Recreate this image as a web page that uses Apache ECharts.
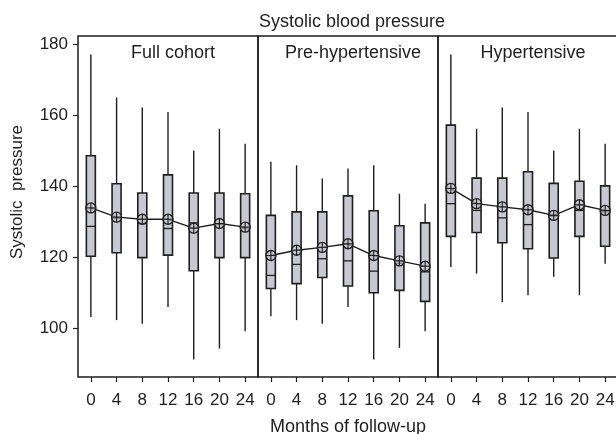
<!DOCTYPE html>
<html>
<head>
<meta charset="utf-8">
<script src="https://cdn.jsdelivr.net/npm/echarts@6/dist/echarts.min.js"></script>
<style>html,body{margin:0;padding:0;background:#fff}#c{width:616px;height:434px}</style>
</head>
<body>
<div id="c"></div>
<script>
var months = ['0', '4', '8', '12', '16', '20', '24'];
var panelTitles = ['Full cohort', 'Pre-hypertensive', 'Hypertensive'];
var yTicks = [100, 120, 140, 160, 180];

// Full cohort
var fullHigh = [177.1, 165.0, 162.2, 160.9, 150.1, 156.2, 152.0];
var fullQ3   = [148.6, 140.7, 138.1, 143.2, 138.1, 138.1, 137.9];
var fullMed  = [128.7, 131.0, 129.5, 128.1, 129.7, 129.2, 128.2];
var fullMean = [133.9, 131.3, 130.7, 130.7, 128.2, 129.5, 128.5];
var fullQ1   = [120.3, 121.3, 119.9, 120.6, 116.2, 119.9, 119.9];
var fullLow  = [103.2, 102.3, 101.3, 106.0, 91.2, 94.3, 99.2];

// Pre-hypertensive
var preHigh = [146.9, 145.9, 142.2, 145.0, 145.9, 137.9, 135.1];
var preQ3   = [131.8, 132.8, 132.8, 137.3, 133.1, 128.9, 129.7];
var preMed  = [114.9, 118.0, 119.6, 119.0, 116.1, 118.3, 115.9];
var preMean = [120.5, 122.0, 122.8, 123.8, 120.5, 119.0, 117.5];
var preQ1   = [111.2, 112.6, 114.3, 111.9, 110.0, 110.7, 107.6];
var preLow  = [103.4, 102.3, 101.3, 106.0, 91.2, 94.5, 99.2];

// Hypertensive
var hypHigh = [177.1, 156.2, 162.2, 160.9, 150.1, 156.2, 152.0];
var hypQ3   = [157.2, 142.3, 142.3, 144.1, 140.8, 141.4, 140.1];
var hypMed  = [135.1, 133.2, 131.1, 129.2, 131.6, 133.2, 132.8];
var hypMean = [139.4, 135.1, 134.2, 133.4, 131.8, 134.8, 133.2];
var hypQ1   = [125.9, 127.0, 124.1, 122.4, 119.8, 125.9, 123.1];
var hypLow  = [117.3, 115.4, 107.4, 109.3, 114.5, 109.3, 118.2];

var panels = [
  {low: fullLow, q1: fullQ1, med: fullMed, q3: fullQ3, high: fullHigh, mean: fullMean},
  {low: preLow, q1: preQ1, med: preMed, q3: preQ3, high: preHigh, mean: preMean},
  {low: hypLow, q1: hypQ1, med: hypMed, q3: hypQ3, high: hypHigh, mean: hypMean}
];

var FONT = '"Liberation Sans", Arial, Helvetica, sans-serif';
var INK = '#1e1e1e';
var BOXFILL = '#c6c9d1';
var gridLefts = [78, 258, 438];
var PW = 180;

var chart = echarts.init(document.getElementById('c'), null, {renderer: 'canvas'});

var grids = [], xAxes = [], yAxes = [], series = [], titles = [];

titles.push({
  text: 'Systolic blood pressure', left: 347, top: 8, textAlign: 'center',
  textStyle: {fontFamily: FONT, fontSize: 18, fontWeight: 'normal', color: INK}
});

panels.forEach(function (p, i) {
  grids.push({
    left: gridLefts[i], top: 36, width: PW, bottom: 57,
    containLabel: false, outerBoundsMode: 'none',
    show: true, borderColor: INK, borderWidth: 1.5, backgroundColor: 'transparent'
  });
  titles.push({
    text: panelTitles[i], left: gridLefts[i] + PW / 2, top: 39, textAlign: 'center',
    textStyle: {fontFamily: FONT, fontSize: 18, fontWeight: 'normal', color: INK}
  });
  xAxes.push({
    type: 'category', gridIndex: i, data: months, boundaryGap: true,
    axisLine: {show: false},
    axisTick: {show: true, alignWithLabel: true, length: 5, lineStyle: {color: INK, width: 1.2}},
    axisLabel: {fontFamily: FONT, fontSize: 17, color: INK, margin: 15, interval: 0},
    splitLine: {show: false},
    name: i === 1 ? 'Months of follow-up' : '',
    nameLocation: 'middle', nameGap: 41,
    nameTextStyle: {fontFamily: FONT, fontSize: 18, color: INK}
  });
  yAxes.push({
    type: 'value', gridIndex: i, min: 86.3, max: 182.3,
    axisLine: {show: false},
    axisTick: {show: i === 0, length: 5, customValues: yTicks, lineStyle: {color: INK, width: 1.2}},
    axisLabel: {show: i === 0, customValues: yTicks, fontFamily: FONT, fontSize: 17, color: INK, margin: 10},
    splitLine: {show: false}
  });

  var boxData = months.map(function (m, k) {
    return [k, p.low[k], p.q1[k], p.med[k], p.q3[k], p.high[k]];
  });
  series.push({
    type: 'custom', xAxisIndex: i, yAxisIndex: i, z: 2,
    encode: {x: 0, y: [1, 2, 3, 4, 5]},
    data: boxData,
    renderItem: function (params, api) {
      var x = api.value(0);
      var pLow = api.coord([x, api.value(1)]);
      var pQ1 = api.coord([x, api.value(2)]);
      var pMed = api.coord([x, api.value(3)]);
      var pQ3 = api.coord([x, api.value(4)]);
      var pHigh = api.coord([x, api.value(5)]);
      var hw = 4.5;
      var cx = pQ1[0];
      return {
        type: 'group',
        children: [
          {type: 'line', shape: {x1: cx, y1: pHigh[1], x2: cx, y2: pQ3[1]}, style: {stroke: INK, lineWidth: 1.4}},
          {type: 'line', shape: {x1: cx, y1: pQ1[1], x2: cx, y2: pLow[1]}, style: {stroke: INK, lineWidth: 1.4}},
          {type: 'rect', shape: {x: cx - hw, y: pQ3[1], width: hw * 2, height: pQ1[1] - pQ3[1]},
            style: {fill: BOXFILL, stroke: INK, lineWidth: 1.6}},
          {type: 'line', shape: {x1: cx - hw, y1: pMed[1], x2: cx + hw, y2: pMed[1]}, style: {stroke: INK, lineWidth: 1.3}}
        ]
      };
    }
  });
  series.push({
    type: 'line', xAxisIndex: i, yAxisIndex: i, z: 3,
    data: p.mean, showSymbol: false, symbol: 'none',
    lineStyle: {color: INK, width: 1.4}, silent: true
  });
  series.push({
    type: 'custom', xAxisIndex: i, yAxisIndex: i, z: 4,
    encode: {x: 0, y: 1},
    data: p.mean.map(function (v, k) { return [k, v]; }),
    renderItem: function (params, api) {
      var c = api.coord([api.value(0), api.value(1)]);
      var r = 5;
      return {
        type: 'group',
        children: [
          {type: 'circle', shape: {cx: c[0], cy: c[1], r: r}, style: {fill: 'rgba(198,201,209,0.6)', stroke: INK, lineWidth: 1.4}},
          {type: 'line', shape: {x1: c[0] - r, y1: c[1], x2: c[0] + r, y2: c[1]}, style: {stroke: INK, lineWidth: 1.1}},
          {type: 'line', shape: {x1: c[0], y1: c[1] - r, x2: c[0], y2: c[1] + r}, style: {stroke: INK, lineWidth: 1.1}}
        ]
      };
    }
  });
});

chart.setOption({
  animation: false,
  backgroundColor: '#fff',
  title: titles,
  grid: grids,
  xAxis: xAxes,
  yAxis: yAxes,
  series: series,
  graphic: [{
    type: 'text', x: 17, y: 192, rotation: Math.PI / 2,
    style: {text: 'Systolic  pressure', fontFamily: FONT, fontSize: 17, fill: INK,
      textAlign: 'center', textVerticalAlign: 'middle'}
  }]
});
</script>
</body>
</html>
